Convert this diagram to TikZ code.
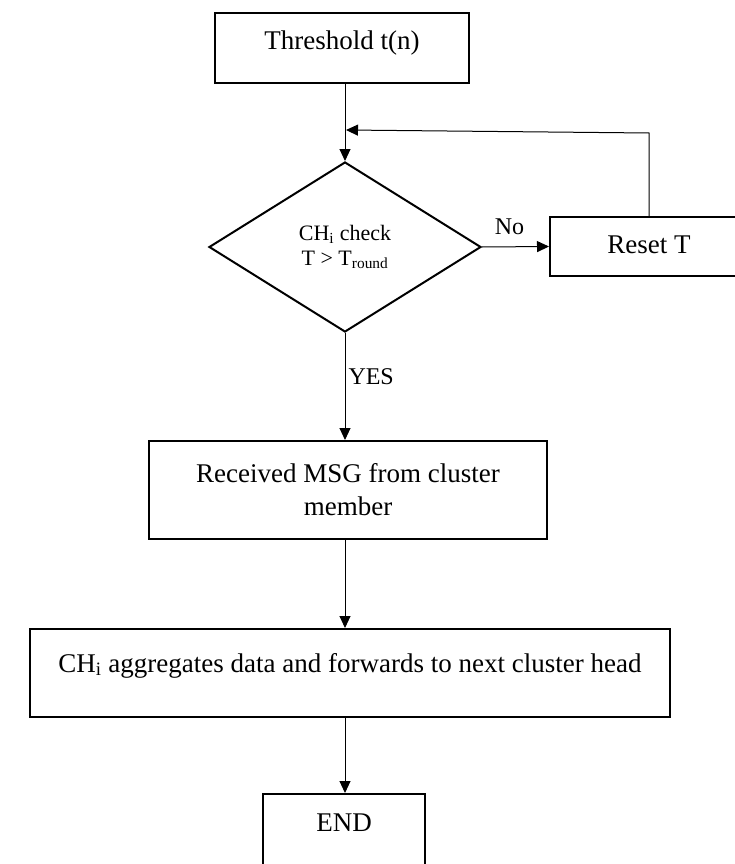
\documentclass[tikz,border=0pt]{standalone}
\usepackage{fontspec}
\setmainfont{Liberation Serif}
\usetikzlibrary{shapes.geometric,arrows.meta}

\tikzstyle{block}=[draw,line width=2pt,rectangle,inner sep=0pt,font=\fontsize{27}{33}\selectfont]
\tikzstyle{decision}=[draw,line width=2pt,diamond,inner sep=0pt,minimum width=272pt,minimum height=170pt,align=center,font=\fontsize{22}{25}\selectfont]
\tikzstyle{flow}=[draw,line width=1pt,-{Triangle[width=11pt,length=12pt]}]
\tikzstyle{answer}=[font=\fontsize{24}{28}\selectfont,inner sep=3pt]
\newcommand{\pxscale}{1pt}

\begin{document}
\begin{tikzpicture}[x=\pxscale, y=-\pxscale, auto]
    \clip (0,0) rectangle (735,864);
    % First the steps and the check
    \node[block, minimum width=254pt, minimum height=70pt, text height=20pt, text depth=16pt] (thr) at (342,48) {Threshold t(n)};
    \node[decision] (dec) at (345,247) {CH\textsubscript{i} check\\T > T\textsubscript{round}};
    \node[block, minimum width=198pt, minimum height=59pt, text height=20pt, text depth=7pt] (reset) at (649,246.5) {Reset T};
    \node[block, minimum width=398pt, minimum height=98pt, align=center] (recv) at (348,490) {Received MSG from cluster\\member};
    \node[block, minimum width=640pt, minimum height=88pt, text height=20pt, text depth=22pt] (aggr) at (350,673) {CH\textsubscript{i} aggregates data and forwards to next cluster head};
    \node[block, minimum width=162pt, minimum height=71pt, text height=20pt, text depth=17pt] (stop) at (344,829.5) {END};
    % Connect the steps going down and write the answers
    \foreach \source/\dest/\answer in {thr/dec/, dec/recv/YES, recv/aggr/, aggr/stop/}
        \path[flow] (\source.south -| dec.center) -- node[answer, pos=0.41] {\answer} (\dest.north -| dec.center);
    % Answer No and the way back
    \path[flow] (dec.east) -- node[answer, pos=0.41, above=12pt, inner sep=0pt] {No} (reset.west);
    \coordinate (bend) at (649,133);
    \coordinate (back) at (346,130);
    \draw[flow] (reset.north) -- (bend) -- (back);
\end{tikzpicture}
\end{document}
